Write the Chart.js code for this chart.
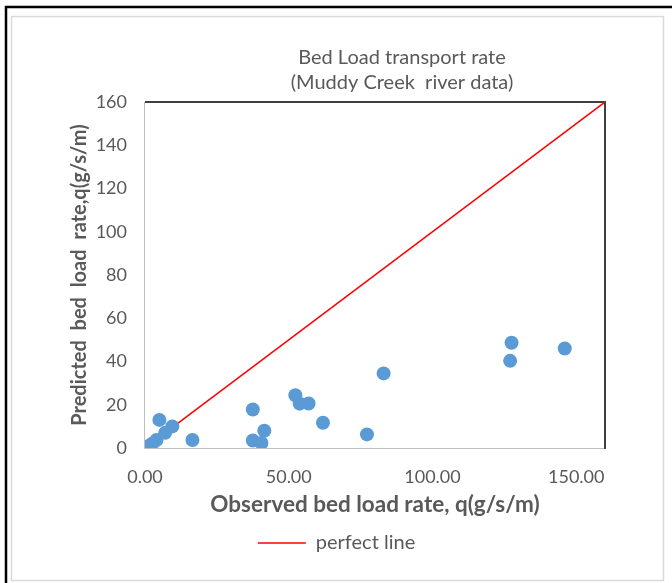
<!DOCTYPE html>
<html>
<head>
<meta charset="utf-8">
<script src="https://cdn.jsdelivr.net/npm/chart.js@4"></script>
<style>
  html, body { margin: 0; padding: 0; background: #fff; }
  #wrap { position: relative; width: 672px; height: 583px; }
  canvas { display: block; }
</style>
</head>
<body>
<div id="wrap"><canvas id="c" width="672" height="583"></canvas></div>
<script>
// ---- data ----
const titleLines = ["Bed Load transport rate", "(Muddy Creek  river data)"];
const xAxisTitle = "Observed bed load rate, q(g/s/m)";
const yAxisTitle = "Predicted  bed  load  rate,q(g/s/m)";
const observed  = [0.5, 1.5, 2.5, 4.0, 5.0, 7.0, 9.5, 16.5, 37.5, 37.5, 40.5, 41.5, 52.3, 53.8, 56.9, 61.9, 77.2, 83.0, 127.0, 127.5, 146.0];
const predicted = [0.3, 1.0, 2.0, 3.7, 13.0, 7.0, 10.0, 3.7, 17.8, 3.5, 2.3, 8.0, 24.4, 20.5, 20.6, 11.7, 6.3, 34.5, 40.3, 48.7, 46.0];
const perfectX = [0, 160];
const perfectY = [0, 160];
const perfectLabel = "perfect line";
const xTicks = [0, 50, 100, 150];
const yTicks = [0, 20, 40, 60, 80, 100, 120, 140, 160];

const TEXT = '#595959';
const FONT = 'Lato';

const framePlugin = {
  id: 'frame',
  beforeDraw(chart) {
    const ctx = chart.ctx;
    ctx.save();
    ctx.fillStyle = '#fff';
    ctx.fillRect(0, 0, chart.width, chart.height);
    // outer black border (top and left)
    ctx.strokeStyle = '#000';
    ctx.lineWidth = 2.5;
    ctx.beginPath();
    ctx.moveTo(6, chart.height);
    ctx.lineTo(6, 7);
    ctx.lineTo(chart.width, 7);
    ctx.stroke();
    // inner light border
    ctx.strokeStyle = '#D9D9D9';
    ctx.lineWidth = 1.5;
    ctx.strokeRect(11.5, 16.5, 652, 564);
    ctx.restore();
  },
  beforeDatasetsDraw(chart) {
    const {ctx, chartArea: a} = chart;
    ctx.save();
    ctx.strokeStyle = '#BFBFBF';
    ctx.lineWidth = 1;
    ctx.beginPath();
    ctx.moveTo(a.left - 0.5, a.top);
    ctx.lineTo(a.left - 0.5, a.bottom + 0.5);
    ctx.lineTo(a.right, a.bottom + 0.5);
    ctx.stroke();
    ctx.strokeStyle = '#404040';
    ctx.lineWidth = 2;
    ctx.beginPath();
    ctx.moveTo(a.left, a.top);
    ctx.lineTo(a.right, a.top);
    ctx.lineTo(a.right, a.bottom + 1);
    ctx.stroke();
    ctx.restore();
  },
  afterDraw(chart) {
    const ctx = chart.ctx;
    ctx.save();
    ctx.fillStyle = TEXT;
    ctx.font = '20px ' + FONT;
    ctx.textAlign = 'center';
    ctx.textBaseline = 'middle';
    ctx.fillText(titleLines[0], 402, 58);
    ctx.fillText(titleLines[1], 402, 83);
    ctx.restore();
  }
};

const scatterData = observed.map((x, i) => ({x: x, y: predicted[i]}));
const lineData = perfectX.map((x, i) => ({x: x, y: perfectY[i]}));

new Chart(document.getElementById('c'), {
  type: 'scatter',
  data: {
    datasets: [
      {
        label: 'data',
        data: scatterData,
        backgroundColor: '#5B9BD5',
        borderWidth: 0,
        pointRadius: 7,
        pointHoverRadius: 7
      },
      {
        label: perfectLabel,
        type: 'line',
        data: lineData,
        borderColor: '#FF0000',
        backgroundColor: '#FF0000',
        borderWidth: 1.5,
        pointRadius: 0,
        showLine: true,
        fill: false
      }
    ]
  },
  options: {
    responsive: false,
    animation: false,
    devicePixelRatio: 1,
    layout: { padding: { left: 68, right: 67, top: 102, bottom: 20 } },
    plugins: {
      title: { display: false },
      tooltip: { enabled: false },
      legend: {
        position: 'bottom',
        labels: {
          filter: (item) => item.text === perfectLabel,
          usePointStyle: true,
          pointStyle: 'line',
          pointStyleWidth: 48,
          padding: 15,
          color: TEXT,
          font: { family: FONT, size: 20 }
        }
      }
    },
    scales: {
      x: {
        type: 'linear',
        min: 0,
        max: 160,
        afterBuildTicks: (s) => { s.ticks = xTicks.map(v => ({value: v})); },
        afterFit: (s) => { s.height = 70; },
        grid: { display: false, drawTicks: false },
        border: { display: false },
        ticks: {
          color: TEXT,
          font: { family: FONT, size: 18 },
          padding: 18,
          maxRotation: 0,
          callback: (v) => Number(v).toFixed(2)
        },
        title: {
          display: true,
          text: xAxisTitle,
          color: TEXT,
          font: { family: FONT, size: 22.5, weight: 'bold' },
          padding: 0
        }
      },
      y: {
        type: 'linear',
        min: 0,
        max: 160,
        afterBuildTicks: (s) => { s.ticks = yTicks.map(v => ({value: v})); },
        afterFit: (s) => { s.width = 77; },
        grid: { display: false, drawTicks: false },
        border: { display: false },
        ticks: {
          color: TEXT,
          font: { family: FONT, size: 18 },
          padding: 18
        },
        title: {
          display: true,
          text: yAxisTitle,
          color: TEXT,
          font: { family: FONT, size: 20, weight: 'bold' },
          padding: 0
        }
      }
    }
  },
  plugins: [framePlugin]
});
</script>
</body>
</html>
